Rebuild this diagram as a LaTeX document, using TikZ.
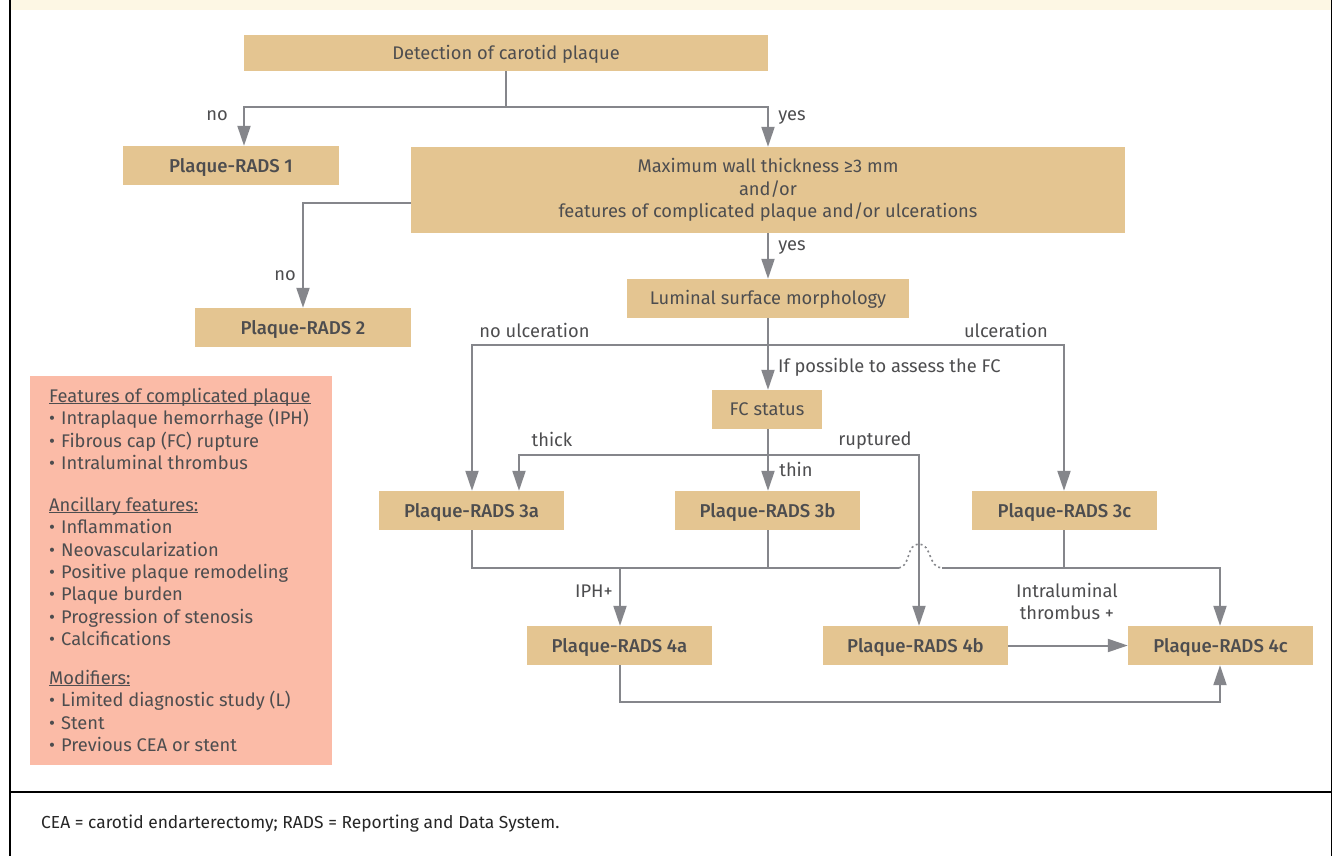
\documentclass[tikz,border=0pt]{standalone}
\usepackage{fontspec}
\setmainfont{Fira Sans}
\newfontfamily\medf{Fira Sans Medium}
\usetikzlibrary{arrows.meta}
\definecolor{boxc}{HTML}{E4C591}
\definecolor{pinkc}{HTML}{FBBBA7}
\definecolor{creamc}{HTML}{FDF7E4}
\definecolor{linec}{HTML}{85868B}
\definecolor{textc}{HTML}{4D4D4F}
\tikzset{
  every node/.style={text=textc,font=\fontsize{18.3}{22}\selectfont},
  fbox/.style={fill=boxc,inner sep=0pt,align=center},
  onel/.style={text height=17pt,text depth=4pt},
  onelb/.style={text height=15.5pt,text depth=4pt},
  rads/.style={fill=boxc,inner sep=0pt,align=center,minimum width=185pt,minimum height=39pt,onel,font=\fontsize{18.6}{22}\selectfont\medf},
  lab/.style={inner sep=0pt},
  conn/.style={draw=linec,line width=2pt},
  arr/.style={conn,-{Triangle[length=20pt,width=13pt,fill=linec]}},
  keyline/.style={inner sep=0pt,anchor=west,text height=14pt,text depth=4pt},
}
\newsavebox\ulbox
\newcommand{\ul}[1]{\sbox\ulbox{#1}\rlap{\rule[-1.8pt]{\wd\ulbox}{1pt}}\usebox\ulbox}
\newcommand{\bl}{•\kern1.2pt\ }
\begin{document}
\begin{tikzpicture}[x=1pt,y=-1pt]
\useasboundingbox (0,0) rectangle (1335,856);
\fill[white] (0,0) rectangle (1335,856);
\fill[creamc] (11,0) rectangle (1331,10);
\draw[black,line width=1.6pt] (10,0) -- (10,856) (1331.5,0) -- (1331.5,856) (10,792) -- (1331.5,792);

\node[fbox,onel,minimum width=524pt,minimum height=36pt] (det) at (506,53) {Detection of carotid plaque};
\node[rads,minimum width=216pt] (p1) at (231,165.5) {Plaque-RADS 1};
\node[fbox,minimum width=714pt,minimum height=86pt,font=\fontsize{18.3}{22.7}\selectfont] (max) at (768,190) {Maximum wall thickness ≥3 mm\\and/or\\features of complicated plaque and/or ulcerations};
\node[rads,minimum width=216pt] (p2) at (303,327.5) {Plaque-RADS 2};
\node[fbox,onelb,minimum width=282pt,minimum height=39pt] (lum) at (768,298.5) {Luminal surface morphology};
\node[fbox,onelb,minimum width=110pt,minimum height=39pt] (fc) at (767,409.5) {FC status};
\node[rads] (p3a) at (471.5,510.5) {Plaque-RADS 3a};
\node[rads] (p3b) at (767.5,510.5) {Plaque-RADS 3b};
\node[rads] (p3c) at (1064.5,510.5) {Plaque-RADS 3c};
\node[rads] (p4a) at (619.5,645.5) {Plaque-RADS 4a};
\node[rads] (p4b) at (915.5,645.5) {Plaque-RADS 4b};
\node[rads] (p4c) at (1220.5,645.5) {Plaque-RADS 4c};

\fill[pinkc] (30,376) rectangle (332,765);
\foreach \yy/\tt in {397/{\ul{Features of complicated plaque}},419/{\bl Intraplaque hemorrhage (IPH)},442/{\bl Fibrous cap (FC) rupture},464/{\bl Intraluminal thrombus},506.5/{\ul{Ancillary features:}},528.5/{\bl Inflammation},551/{\bl Neovascularization},573.5/{\bl Positive plaque remodeling},595.5/{\bl Plaque burden},618/{\bl Progression of stenosis},640/{\bl Calcifications},679/{\ul{Modifiers:}},701/{\bl Limited diagnostic study (L)},724/{\bl Stent},746/{\bl Previous CEA or stent}}
  \node[keyline] at (49,\yy) {\tt};

% connectors
\coordinate (j1) at (506,107);
\coordinate (c1) at (244,107);
\coordinate (c2) at (768,107);
\draw[conn] (det.south -| j1) -- (j1);
\draw[arr] (j1) -- (c1) -- (c1 |- p1.north);
\draw[arr] (j1) -- (c2) -- (c2 |- max.north);
\coordinate (c3) at (303,203);
\draw[arr] (c3 -| max.west) -- (c3) -- (p2.north);
\coordinate (x768) at (768,0);
\draw[arr] (x768 |- max.south) -- (x768 |- lum.north);
\draw[arr] (x768 |- lum.south) -- (x768 |- fc.north);
\coordinate (b1) at (472,345);
\coordinate (b2) at (1064,345);
\draw[arr] (x768 |- b1) -- (b1) -- (b1 |- p3a.north);
\draw[arr] (x768 |- b1) -- (b2) -- (b2 |- p3c.north);
\draw[arr] (x768 |- fc.south) -- (x768 |- p3b.north);
\coordinate (t1) at (519,455);
\coordinate (t2) at (919,455);
\draw[arr] (x768 |- t1) -- (t1) -- (t1 |- p3a.north);
\draw[arr] (x768 |- t1) -- (t2) -- (t2 |- p4b.north);
\coordinate (h0) at (472,568);
\coordinate (h1) at (899,568);
\coordinate (h2) at (942,568);
\coordinate (h3) at (1220,568);
\coordinate (h4) at (1064,568);
\coordinate (h5) at (620,568);
\draw[conn] (h0 |- p3a.south) -- (h0) -- (h1);
\draw[conn] (x768 |- p3b.south) -- (x768 |- h0);
\draw[draw=linec,line width=1.6pt,dash pattern=on 2pt off 3pt] (h1) .. controls (911,566) and (906,544) .. (919,544) .. controls (932,544) and (928,568) .. (h2);
\draw[arr] (h2) -- (h3) -- (h3 |- p4c.north);
\draw[conn] (h4 |- p3c.south) -- (h4);
\draw[arr] (h5) -- (h5 |- p4a.north);
\draw[arr] (p4b.east) -- (p4c.west);
\coordinate (k1) at (620,702);
\coordinate (k2) at (1220,702);
\draw[arr] (k1 |- p4a.south) -- (k1) -- (k2) -- (k2 |- p4c.south);

% labels
\node[lab] (l1) at (217,116) {no};
\node[lab] (l2) at (792,118) {yes};
\node[lab] (l3) at (792,248) {yes};
\node[lab] (l4) at (285,276) {no};
\node[lab] (l5) at (534.5,330) {no ulceration};
\node[lab] (l6) at (1006,330) {ulceration};
\node[lab,anchor=west] (l7) at (778,367) {If possible to assess the FC};
\node[lab] (l8) at (552,439) {thick};
\node[lab] (l9) at (875,441) {ruptured};
\node[lab] (l10) at (796,469) {thin};
\node[lab] (l11) at (594,591) {IPH+};
\node[lab,align=center] (l12) at (1067,601) {Intraluminal\\thrombus +};
\node[lab,anchor=west,text=black!85,font=\fontsize{17.4}{20}\selectfont] (foot) at (41,824) {CEA = carotid endarterectomy; RADS = Reporting and Data System.};
\end{tikzpicture}
\end{document}
